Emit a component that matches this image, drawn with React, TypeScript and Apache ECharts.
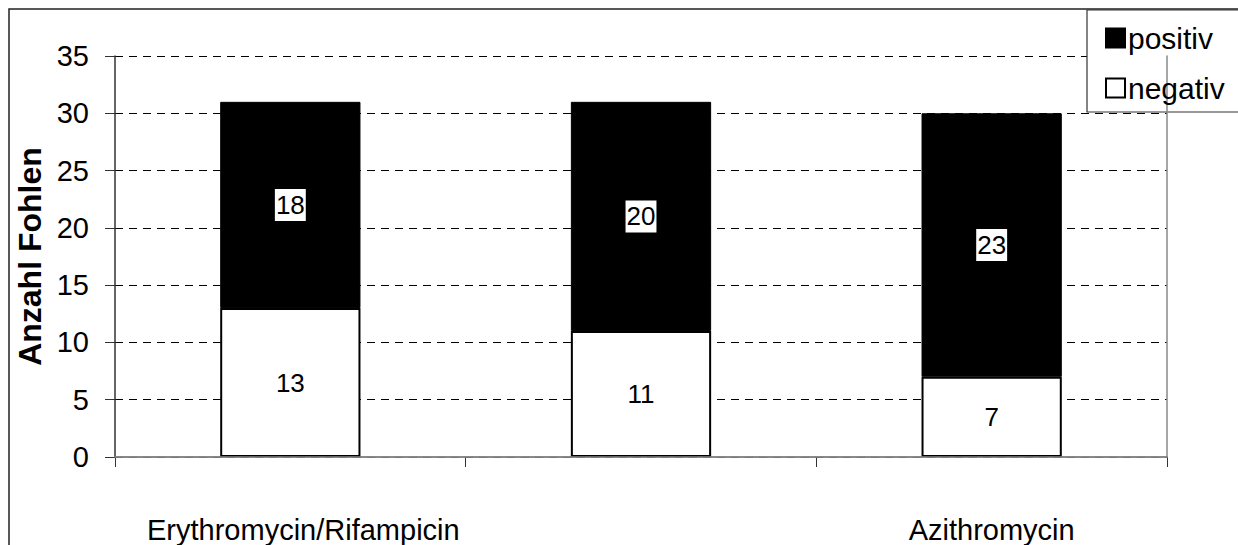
import React, { useEffect, useRef } from "react";
import * as echarts from "echarts";

// Antibiotika-Gruppen (mittlere Kategorie ohne Beschriftung)
const categories = ["Erythromycin/Rifampicin", "", "Azithromycin"];
const negativValues = [13, 11, 7];
const positivValues = [18, 20, 23];
const yTicks = { min: 0, max: 35, interval: 5 };

const FONT = '"Liberation Sans", Arial, sans-serif';

export default function App() {
  const ref = useRef<HTMLDivElement>(null);

  useEffect(() => {
    if (!ref.current) return;
    const chart = echarts.init(ref.current, null, { renderer: "svg" });
    chart.setOption({
      animation: false,
      backgroundColor: "#ffffff",
      textStyle: { fontFamily: FONT, color: "#000" },
      graphic: [
        {
          type: "rect",
          shape: { x: 9, y: 9, width: 1300, height: 600 },
          style: { fill: "none", stroke: "#222", lineWidth: 1.5 },
          z: 0,
        },
        {
          type: "rect",
          shape: { x: 1087, y: 10, width: 200, height: 102 },
          style: { fill: "#fff", stroke: "#333", lineWidth: 1.2 },
          z: 5,
        },
      ],
      legend: {
        data: ["positiv", "negativ"],
        orient: "vertical",
        left: 1100,
        top: 18,
        itemWidth: 19,
        itemHeight: 19,
        itemGap: 20,
        icon: "rect",
        z: 10,
        textStyle: { fontFamily: FONT, fontSize: 30, color: "#000", padding: [0, 0, 0, -2] },
      },
      grid: { left: 115, right: 71, top: 56, bottom: 88 },
      xAxis: [
        {
          type: "category",
          data: categories,
          axisLine: { lineStyle: { color: "#666", width: 1.5 } },
          axisTick: { show: true, length: 10, lineStyle: { color: "#333" } },
          axisLabel: {
            fontFamily: FONT,
            fontSize: 29,
            color: "#000",
            margin: 58,
            interval: 0,
            formatter: (v: string, i: number) => (i === 0 ? `{first|${v}}` : v),
            rich: {
              first: { fontFamily: FONT, fontSize: 29, color: "#000", padding: [0, 0, 0, 26] },
            },
          },
        },
        {
          type: "category",
          data: categories,
          position: "top",
          z: 5,
          axisLine: { lineStyle: { color: "#888", width: 1.5 } },
          axisTick: { show: false },
          axisLabel: { show: false },
        },
      ],
      yAxis: [
        {
          type: "value",
          min: yTicks.min,
          max: yTicks.max,
          interval: yTicks.interval,
          name: "Anzahl Fohlen",
          nameLocation: "middle",
          nameGap: 64,
          nameTextStyle: { fontFamily: FONT, fontSize: 32, fontWeight: "bold", color: "#000" },
          axisLine: { show: true, lineStyle: { color: "#333", width: 1.5 } },
          axisTick: { show: true, length: 10, lineStyle: { color: "#333" } },
          axisLabel: { fontFamily: FONT, fontSize: 29, color: "#000", margin: 26 },
          splitLine: { show: true, lineStyle: { color: "#000", width: 1, type: [8, 6] } },
        },
        {
          type: "value",
          min: yTicks.min,
          max: yTicks.max,
          interval: yTicks.interval,
          position: "right",
          z: 5,
          axisLine: { show: true, lineStyle: { color: "#888", width: 1.5 } },
          axisTick: { show: false },
          axisLabel: { show: false },
          splitLine: { show: false },
        },
      ],
      series: [
        {
          name: "negativ",
          type: "bar",
          stack: "gesamt",
          barWidth: "40%",
          data: negativValues,
          itemStyle: { color: "#fff", borderColor: "#000", borderWidth: 2 },
          label: {
            show: true,
            position: "inside",
            fontFamily: FONT,
            fontSize: 26,
            color: "#000",
          },
        },
        {
          name: "positiv",
          type: "bar",
          stack: "gesamt",
          barWidth: "40%",
          data: positivValues,
          itemStyle: { color: "#000", borderColor: "#000", borderWidth: 1 },
          label: {
            show: true,
            position: "inside",
            fontFamily: FONT,
            fontSize: 26,
            color: "#000",
            backgroundColor: "#fff",
            padding: [4, 1, 2, 1],
          },
        },
      ],
    });
    return () => chart.dispose();
  }, []);

  return (
    <div
      ref={ref}
      style={{ position: "fixed", left: 0, top: 0, width: 1238, height: 545 }}
    />
  );
}
